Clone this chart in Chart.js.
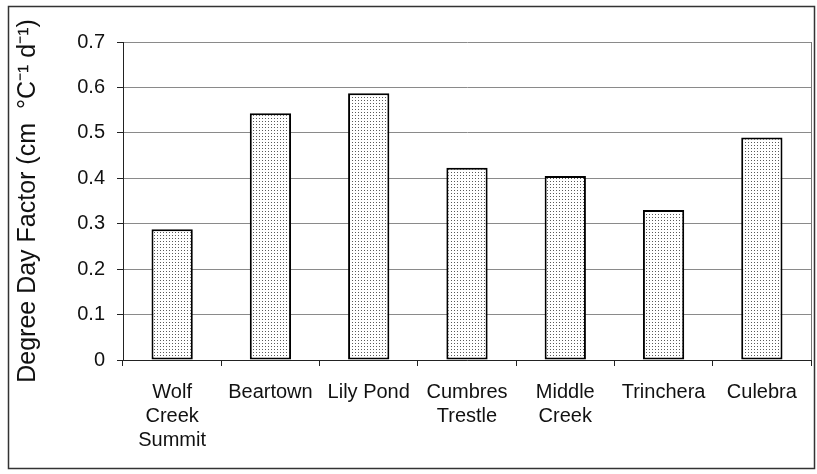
<!DOCTYPE html>
<html><head><meta charset="utf-8">
<script src="https://cdn.jsdelivr.net/npm/chart.js@4/dist/chart.umd.min.js"></script>
<style>html,body{margin:0;padding:0;background:#fff}#wrap{width:817px;height:474px}</style>
</head><body><div id="wrap"><canvas id="c"></canvas></div>
<script>
const categories = [["Wolf","Creek","Summit"],"Beartown","Lily Pond",["Cumbres","Trestle"],["Middle","Creek"],"Trinchera","Culebra"];
const ddfValues = [0.288, 0.543, 0.587, 0.423, 0.405, 0.330, 0.490];
const yTicks = [0, 0.1, 0.2, 0.3, 0.4, 0.5, 0.6, 0.7];
const yTitle = "Degree Day Factor (cm  \u00B0C\u207B\u00B9 d\u207B\u00B9)";

function makePattern(){
  const t = document.createElement('canvas'); t.width = 3; t.height = 3;
  const g = t.getContext('2d');
  g.fillStyle = '#ffffff'; g.fillRect(0,0,3,3);
  g.fillStyle = '#5a5a5a'; g.fillRect(1,1,1,1);
  return document.getElementById('c').getContext('2d').createPattern(t,'repeat');
}

const framePlugin = {
  id:'frame',
  afterDraw(chart){
    const ctx = chart.ctx, a = chart.chartArea;
    ctx.save();
    ctx.strokeStyle = '#777'; ctx.lineWidth = 1;
    ctx.beginPath(); ctx.moveTo(a.right+0.5, a.top); ctx.lineTo(a.right+0.5, a.bottom); ctx.stroke();
    ctx.strokeStyle = '#333'; ctx.lineWidth = 1.5;
    ctx.strokeRect(8.5, 6.5, chart.width - 11, chart.height - 12);
    ctx.restore();
  }
};

Chart.defaults.font.family = '"Liberation Sans", Arial, sans-serif';
Chart.defaults.color = '#111';

new Chart(document.getElementById('c'), {
  type:'bar',
  data:{ labels: categories, datasets:[{ data: ddfValues, backgroundColor: makePattern(), borderColor:'#000', borderWidth:2, borderSkipped:false, barPercentage:0.42, categoryPercentage:1.0 }]},
  options:{
    responsive:true, maintainAspectRatio:false, animation:false,
    layout:{ padding:{ left:10, right:6, top:42, bottom:0 } },
    plugins:{ legend:{display:false}, tooltip:{enabled:false} },
    scales:{
      x:{
        grid:{ offset:true, drawOnChartArea:false, drawTicks:true, tickLength:6, color:'#222' },
        border:{ color:'#222', width:1 },
        ticks:{ font:{size:20, lineHeight:1.2}, padding:14, maxRotation:0, autoSkip:false },
        afterFit(s){ s.height = 114; }
      },
      y:{
        min:0, max:0.7,
        afterBuildTicks(s){ s.ticks = yTicks.map(v=>({value:v})); },
        grid:{ color:'#8a8a8a', lineWidth:1, tickLength:6, drawTicks:true, tickColor:'#222' },
        border:{ color:'#222', width:1 },
        ticks:{ font:{size:20}, padding:12, callback:v=> v===0 ? '0' : v.toFixed(1) },
        title:{ display:true, text:yTitle, font:{size:25}, padding:{top:3,bottom:6} },
        afterFit(s){ s.width = 113; }
      }
    }
  },
  plugins:[framePlugin]
});
</script></body></html>
